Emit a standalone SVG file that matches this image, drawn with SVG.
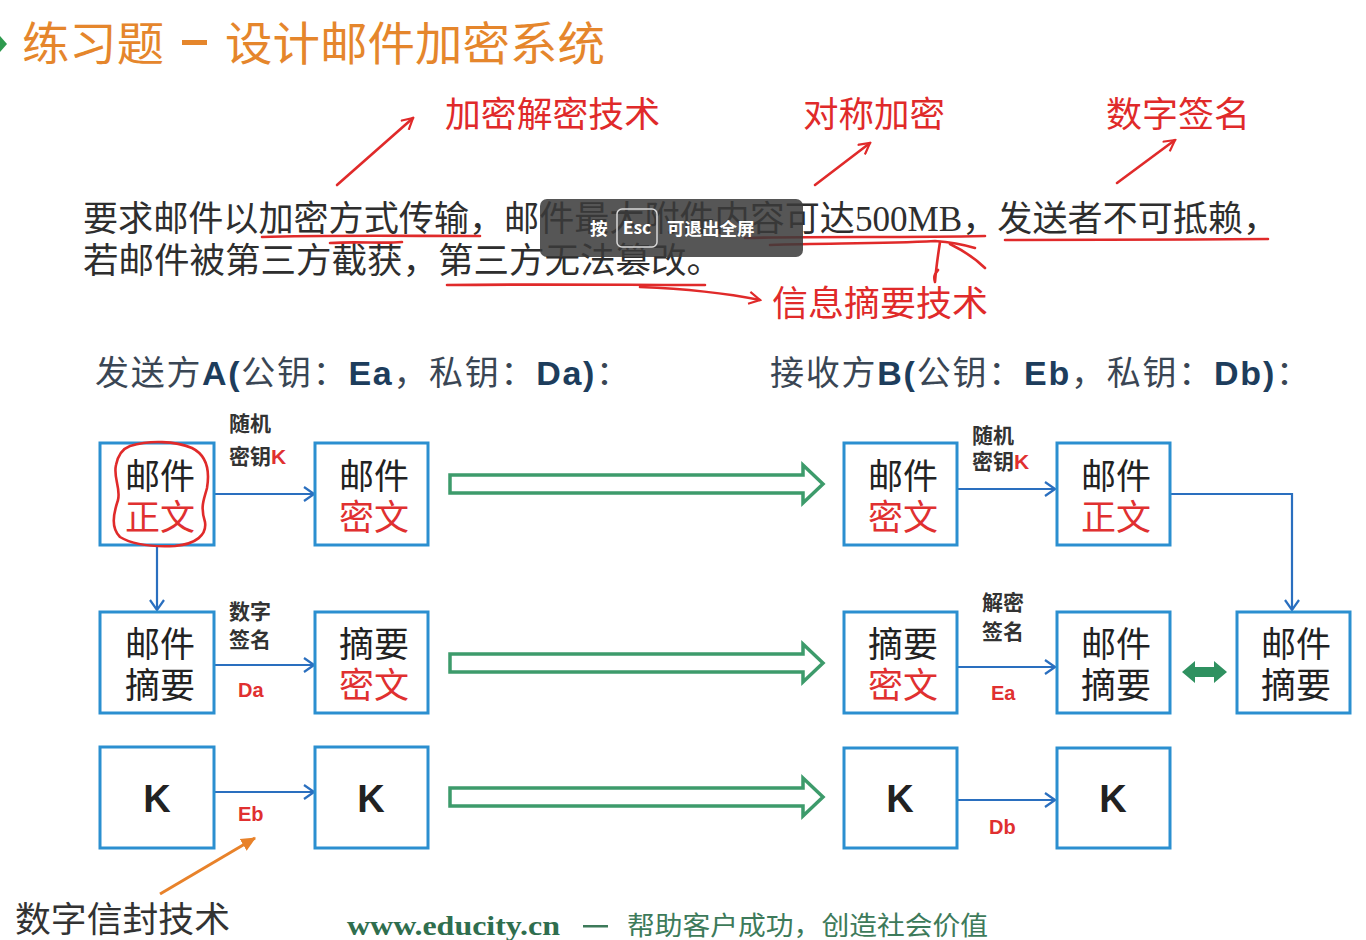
<svg xmlns="http://www.w3.org/2000/svg" width="1366" height="940" viewBox="0 0 1366 940">
<defs>
<style>
.title{font-family:"Noto Sans CJK SC",sans-serif;font-size:46px;fill:#E5862C}
.ann{font-family:"Noto Sans CJK SC",sans-serif;font-size:35px;fill:#E02A2A}
.para{font-family:"Liberation Serif","Noto Sans CJK SC",serif;font-size:35px;fill:#2e2e2e}
.hdr{font-family:"Noto Sans CJK SC",sans-serif;font-size:34px;fill:#3a4654}
.hb{font-family:"Liberation Sans","Noto Sans CJK SC",sans-serif;font-weight:bold;fill:#1d3d5c}
.box{fill:#fff;stroke:#2b8fd0;stroke-width:3}
.bt{font-family:"Noto Sans CJK SC",sans-serif;font-size:35px;fill:#222;text-anchor:middle}
.red{fill:#E03030}
.kt{font-family:"Liberation Sans",sans-serif;font-weight:bold;font-size:38px;text-anchor:middle;fill:#222}
.lbl{font-family:"Noto Sans CJK SC",sans-serif;font-size:21px;font-weight:bold;fill:#333}
.lk{font-family:"Liberation Sans",sans-serif;font-weight:bold;fill:#E03030}
.conn{fill:none;stroke:#2a6fbf;stroke-width:2.2}
.garrow{fill:#fff;stroke:#3d9b6b;stroke-width:3.5;stroke-linejoin:miter}
.pen{fill:none;stroke:#E02A2A;stroke-width:2.6;stroke-linecap:round;stroke-linejoin:round}
.ovt{font-family:"Noto Sans CJK SC",sans-serif;font-weight:bold;font-size:17.5px;fill:#fff}
</style>
<marker id="ab" viewBox="0 0 12 16" refX="11" refY="8" markerWidth="12" markerHeight="16" markerUnits="userSpaceOnUse" orient="auto">
<path d="M1,1 L11,8 L1,15" fill="none" stroke="#2a6fbf" stroke-width="2.2"/>
</marker>
<marker id="ar" viewBox="0 0 14 14" refX="12" refY="7" markerWidth="14" markerHeight="14" markerUnits="userSpaceOnUse" orient="auto">
<path d="M1,1 L12,7 L1,13" fill="none" stroke="#E02A2A" stroke-width="2.2"/>
</marker>
<marker id="ao" viewBox="0 0 14 14" refX="12" refY="7" markerWidth="16" markerHeight="16" markerUnits="userSpaceOnUse" orient="auto">
<path d="M0,1 L13,7 L0,13 Z" fill="#E8822A"/>
</marker>
</defs>
<rect width="1366" height="940" fill="#fff"/>

<g id="title">
<path d="M0,36 L7,44 L0,52 Z" fill="#2e9a4e"/>
<text class="title" x="22" y="60" textLength="142" lengthAdjust="spacingAndGlyphs">练习题</text>
<rect x="182" y="40" width="25" height="5" fill="#E5862C"/>
<text class="title" x="225" y="60" textLength="380" lengthAdjust="spacingAndGlyphs">设计邮件加密系统</text>
</g>

<g id="annotations">
<text class="ann" x="445" y="127" textLength="215" lengthAdjust="spacingAndGlyphs">加密解密技术</text>
<text class="ann" x="803" y="127" textLength="142" lengthAdjust="spacingAndGlyphs">对称加密</text>
<text class="ann" x="1106" y="127" textLength="144" lengthAdjust="spacingAndGlyphs">数字签名</text>
<text class="ann" x="772" y="316" textLength="216" lengthAdjust="spacingAndGlyphs">信息摘要技术</text>
<line class="pen" x1="337" y1="185" x2="413" y2="118" marker-end="url(#ar)" stroke-width="2"/>
<line class="pen" x1="815" y1="185" x2="870" y2="143" marker-end="url(#ar)" stroke-width="2"/>
<line class="pen" x1="1117" y1="183" x2="1175" y2="140" marker-end="url(#ar)" stroke-width="2"/>
</g>

<g id="paragraph">
<text class="para" x="83" y="231" textLength="1195" lengthAdjust="spacingAndGlyphs">要求邮件以加密方式传输，邮件最大附件内容可达500MB，发送者不可抵赖，</text>
<text class="para" x="83" y="273" textLength="639" lengthAdjust="spacingAndGlyphs">若邮件被第三方截获，第三方无法篡改。</text>
<path class="pen" d="M262,237 C320,235 400,236 480,236"/>
<path class="pen" d="M330,243 C360,241 380,244 402,242" stroke-width="1.6"/>
<path class="pen" d="M745,238 C820,236 900,238 985,236"/>
<path class="pen" d="M770,245 C830,243 880,244 935,241 C950,242 965,245 975,248" stroke-width="1.8"/>
<path class="pen" d="M940,242 C938,255 936,268 935,282 C933,276 936,272 938,270" stroke-width="2"/>
<path class="pen" d="M950,244 C962,250 975,258 985,268" stroke-width="2"/>
<path class="pen" d="M1005,240 C1090,239 1180,240 1268,239"/>
<path class="pen" d="M447,285 C540,284 630,285 705,285"/>
<path class="pen" d="M640,287 C690,289 725,293 760,300" marker-end="url(#ar)"/>
</g>

<g id="overlay">
<rect x="540" y="199" width="263" height="58" rx="7" fill="#3a3a3a" fill-opacity="0.86"/>
<text class="ovt" x="590" y="235">按</text>
<rect x="617" y="209" width="40" height="38" rx="5" fill="none" stroke="#d8d8d8" stroke-width="1.5"/>
<text class="ovt" x="637" y="234" text-anchor="middle" font-size="15px">Esc</text>
<text class="ovt" x="667" y="235">可退出全屏</text>
</g>

<g id="headers">
<text class="hdr" x="95" y="385" textLength="535" lengthAdjust="spacing">发送方<tspan class="hb">A(</tspan>公钥：<tspan class="hb">Ea</tspan>，私钥：<tspan class="hb">Da)</tspan>：</text>
<text class="hdr" x="770" y="385" textLength="540" lengthAdjust="spacing">接收方<tspan class="hb">B(</tspan>公钥：<tspan class="hb">Eb</tspan>，私钥：<tspan class="hb">Db)</tspan>：</text>
</g>

<g id="connectors">
<line class="conn" x1="215" y1="494" x2="314" y2="494" marker-end="url(#ab)"/>
<line class="conn" x1="157" y1="546" x2="157" y2="610" marker-end="url(#ab)"/>
<line class="conn" x1="215" y1="665" x2="314" y2="665" marker-end="url(#ab)"/>
<line class="conn" x1="215" y1="792" x2="314" y2="792" marker-end="url(#ab)"/>
<line class="conn" x1="957" y1="489" x2="1055" y2="489" marker-end="url(#ab)"/>
<path class="conn" d="M1170,494 H1292 V610" marker-end="url(#ab)"/>
<line class="conn" x1="957" y1="667" x2="1055" y2="667" marker-end="url(#ab)"/>
<line class="conn" x1="957" y1="800" x2="1055" y2="800" marker-end="url(#ab)"/>
<path class="garrow" d="M450,475 H803 V465 L823,484 L803,503 V493 H450 Z"/>
<path class="garrow" d="M450,654 H803 V644 L823,663 L803,682 V672 H450 Z"/>
<path class="garrow" d="M450,788 H803 V778 L823,797 L803,816 V806 H450 Z"/>
<path d="M1182,672 L1195,661 V667 H1214 V661 L1227,672 L1214,683 V677 H1195 V683 Z" fill="#2f9160"/>
<line x1="160" y1="894" x2="255" y2="838" stroke="#E8822A" stroke-width="3" marker-end="url(#ao)"/>
</g>

<g id="labels">
<text class="lbl" x="229" y="431">随机</text>
<text class="lbl" x="229" y="464">密钥<tspan class="lk">K</tspan></text>
<text class="lbl" x="229" y="619">数字</text>
<text class="lbl" x="229" y="647">签名</text>
<text class="lk" x="238" y="697" font-size="20">Da</text>
<text class="lk" x="238" y="821" font-size="20">Eb</text>
<text class="lbl" x="972" y="443">随机</text>
<text class="lbl" x="972" y="469">密钥<tspan class="lk">K</tspan></text>
<text class="lbl" x="982" y="610">解密</text>
<text class="lbl" x="982" y="639">签名</text>
<text class="lk" x="991" y="700" font-size="20">Ea</text>
<text class="lk" x="989" y="834" font-size="20">Db</text>
</g>

<g id="A1"><rect class="box" x="100" y="443" width="114" height="102"/><text class="bt" x="160" y="489">邮件</text><text class="bt red" x="160" y="530">正文</text>
<path class="pen" d="M130,446 C150,440 175,441 192,448 C206,455 210,470 207,488 C204,500 200,506 205,522 C207,535 196,544 175,546 C155,547 135,546 120,537 C111,528 113,515 118,500 C121,488 113,478 116,465 C118,455 122,449 130,446 Z" stroke-width="2"/>
</g>
<g id="A2"><rect class="box" x="315" y="443" width="113" height="102"/><text class="bt" x="374" y="489">邮件</text><text class="bt red" x="374" y="530">密文</text></g>
<g id="A3"><rect class="box" x="100" y="612" width="114" height="101"/><text class="bt" x="160" y="657">邮件</text><text class="bt" x="160" y="698">摘要</text></g>
<g id="A4"><rect class="box" x="315" y="612" width="113" height="101"/><text class="bt" x="374" y="657">摘要</text><text class="bt red" x="374" y="698">密文</text></g>
<g id="A5"><rect class="box" x="100" y="747" width="114" height="101"/><text class="kt" x="157" y="812">K</text></g>
<g id="A6"><rect class="box" x="315" y="747" width="113" height="101"/><text class="kt red" x="371" y="812">K</text></g>

<g id="B1"><rect class="box" x="844" y="443" width="113" height="102"/><text class="bt" x="903" y="489">邮件</text><text class="bt red" x="903" y="530">密文</text></g>
<g id="B2"><rect class="box" x="1057" y="443" width="113" height="102"/><text class="bt" x="1116" y="489">邮件</text><text class="bt red" x="1116" y="530">正文</text></g>
<g id="B3"><rect class="box" x="844" y="612" width="113" height="101"/><text class="bt" x="903" y="657">摘要</text><text class="bt red" x="903" y="698">密文</text></g>
<g id="B4"><rect class="box" x="1057" y="612" width="113" height="101"/><text class="bt" x="1116" y="657">邮件</text><text class="bt" x="1116" y="698">摘要</text></g>
<g id="B5"><rect class="box" x="1237" y="612" width="113" height="101"/><text class="bt" x="1296" y="657">邮件</text><text class="bt" x="1296" y="698">摘要</text></g>
<g id="B6"><rect class="box" x="844" y="748" width="113" height="100"/><text class="kt red" x="900" y="812">K</text></g>
<g id="B7"><rect class="box" x="1057" y="748" width="113" height="100"/><text class="kt" x="1113" y="812">K</text></g>

<g id="footer">
<text x="15" y="932" font-family="Noto Sans CJK SC, sans-serif" font-size="35" fill="#333" textLength="215" lengthAdjust="spacingAndGlyphs">数字信封技术</text>
<text x="347" y="935" font-family="Liberation Serif, serif" font-weight="bold" font-size="27" fill="#2f6e4e" textLength="213" lengthAdjust="spacingAndGlyphs">www.educity.cn</text>
<rect x="583" y="925" width="25" height="2.5" fill="#3d7a5a"/>
<text x="627" y="935" font-family="Noto Sans CJK SC, sans-serif" font-size="26" fill="#3d7a5a" textLength="361" lengthAdjust="spacingAndGlyphs">帮助客户成功，创造社会价值</text>
</g>
</svg>
